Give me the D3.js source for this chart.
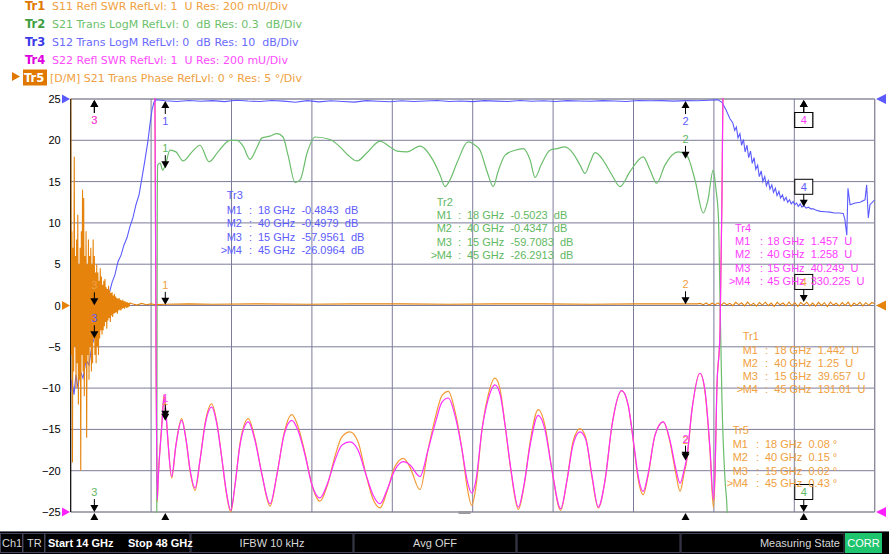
<!DOCTYPE html>
<html><head><meta charset="utf-8">
<script src="https://cdn.jsdelivr.net/npm/d3@7"></script>
<style>
body{margin:0;background:#fff;}
svg{display:block;font-family:"Liberation Sans",Arial,sans-serif;}
.pre{white-space:pre;}
</style>
</head><body>
<svg id="c" width="889" height="554"></svg>
<script>
// ---------------- DATA ----------------
const freqStart = 14, freqStop = 48;            // GHz
const yTicks = [25,20,15,10,5,0,-5,-10,-15,-20,-25];
const xDivisions = 10;

const headerIds   = ["Tr1","Tr2","Tr3","Tr4","Tr5"];
const headerDescs = ["S11 Refl SWR RefLvl: 1  U Res: 200 mU/Div",
                     "S21 Trans LogM RefLvl: 0  dB Res: 0.3  dB/Div",
                     "S12 Trans LogM RefLvl: 0  dB Res: 10  dB/Div",
                     "S22 Refl SWR RefLvl: 1  U Res: 200 mU/Div",
                     "[D/M] S21 Trans Phase RefLvl: 0 \u00b0 Res: 5 \u00b0/Div"];

const markerNames = ["M1","M2","M3","M4"];
const markerFreqs = [18, 40, 15, 45];
const tr1Readout = [1.442, 1.25, 39.657, 131.01];
const tr2Readout = [-0.5023, -0.4347, -59.7083, -26.2913];
const tr3Readout = [-0.4843, -0.4979, -57.9561, -26.0964];
const tr4Readout = [1.457, 1.258, 40.249, 330.225];
const tr5Readout = [0.08, 0.15, 0.02, 0.43];

// traces in screen-grid units ([GHz, value])
const tr2Points = [[17.55,-30],[17.64,-25],[17.66,12.8],[17.68,17.0],[17.78,17.25],[17.89,16.4],[17.99,16.9],[18.20,18.8],[18.45,18.6],[18.75,17.5],[19.13,18.6],[19.47,19.4],[19.85,17.4],[20.23,18.6],[20.74,20.0],[21.03,20.0],[21.29,19.3],[21.58,17.7],[21.87,19.1],[22.09,20.3],[22.43,20.5],[22.72,20.8],[22.98,20.4],[23.19,18.2],[23.49,14.9],[23.70,15.2],[24.00,18.5],[24.33,20.4],[24.97,20.1],[25.39,19.2],[25.73,18.2],[26.11,17.5],[26.53,18.5],[27.08,19.9],[27.50,19.2],[27.80,18.7],[28.22,18.6],[28.77,19.3],[29.32,17.6],[29.62,15.8],[29.83,14.4],[30.04,15.2],[30.34,17.3],[30.80,19.8],[31.10,19.4],[31.31,18.8],[31.61,16.2],[31.87,14.4],[32.07,16.2],[32.37,18.2],[32.79,18.8],[33.14,19.0],[33.43,17.6],[33.64,15.5],[33.89,17.0],[34.27,18.8],[34.57,19.0],[34.90,19.2],[35.25,18.4],[35.54,17.0],[35.75,16.0],[35.96,17.3],[36.17,18.5],[36.38,18.1],[36.60,17.2],[36.89,15.8],[37.23,14.4],[37.65,16.2],[38.21,18.0],[38.50,16.4],[38.78,14.8],[39.13,17.0],[39.69,18.6],[40.05,18.2],[40.40,15.2],[40.75,11.2],[40.95,12.8],[41.17,16.4],[41.29,14.0],[41.39,10.8],[41.46,0.7],[41.54,-11.4],[41.67,-21.1],[41.76,-25],[41.80,-30],[48,-30]];

const tr3Rise = [[14.00,-10.5],[14.05,-9.0],[14.14,-10.8],[14.22,-8.4],[14.31,-10.0],[14.39,-7.8],[14.52,-8.8],[14.65,-6.6],[14.77,-7.2],[14.90,-4.8],[15.00,-3.9],[15.11,-3.0],[15.24,-1.8],[15.37,-0.8],[15.49,0.7],[15.62,1.4],[15.75,2.8],[15.87,3.7],[16.00,5.3],[16.13,6.1],[16.25,7.3],[16.38,8.2],[16.51,9.6],[16.63,10.6],[16.76,12.2],[16.89,13.4],[17.01,15.4],[17.14,17.6],[17.27,20.0],[17.35,21.9],[17.44,23.7],[17.52,24.6],[17.61,24.9]];
const tr3TopStart = 18.0, tr3TopStep = 0.5;
const tr3Top = [24.78,24.7,24.82,24.72,24.8,24.68,24.85,24.75,24.7,24.82,24.74,24.6,24.8,24.65,24.78,24.7,24.62,24.8,24.72,24.66,24.78,24.7,24.75,24.82,24.7,24.76,24.68,24.8,24.74,24.7,24.82,24.72,24.78,24.7,24.8,24.75,24.72,24.8,24.76,24.7,24.82,24.78,24.8,24.74,24.8,24.78,24.85];
const tr3Fall = [[41.37,24.9],[41.54,24.6],[41.71,23.7],[41.88,22.6],[42.00,22.1],[42.08,21.2],[42.15,21.6],[42.22,20.3],[42.30,20.8],[42.37,19.4],[42.45,20.1],[42.52,18.6],[42.60,19.4],[42.67,17.9],[42.75,18.7],[42.82,17.2],[42.90,17.9],[42.97,16.5],[43.05,17.0],[43.12,15.6],[43.20,16.3],[43.27,15.0],[43.35,15.6],[43.42,14.5],[43.50,15.1],[43.57,14.1],[43.65,14.6],[43.72,13.7],[43.80,14.2],[43.87,13.3],[43.95,13.8],[44.02,13.0],[44.10,13.4],[44.17,12.7],[44.25,13.1],[44.32,12.5],[44.40,12.8],[44.47,12.3],[44.55,12.6],[44.62,12.2],[44.70,12.4],[44.77,12.0],[44.85,12.3],[44.92,11.9],[45.00,12.1],[45.1,11.8],[45.2,11.9],[45.3,11.7],[45.4,11.7],[45.5,11.55],[45.7,11.4],[45.9,11.35],[46.1,11.3],[46.3,11.2],[46.5,11.2],[46.67,11.15],[46.74,10.4],[46.82,8.5],[46.87,14.2],[46.96,12.2],[47.17,12.4],[47.38,12.5],[47.59,12.8],[47.66,14.6],[47.73,10.6],[47.80,12.2],[48.0,12.8]];

const tr4Points = [[14,30],[17.50,30],[17.56,26],[17.61,-6.6],[17.66,-23.5],[17.70,-21],[17.85,-14.7],[17.95,-11.0],[18.03,-13.0],[18.11,-16.3],[18.27,-20.7],[18.45,-16.9],[18.69,-13.9],[18.88,-16.3],[19.05,-19.9],[19.26,-22.1],[19.47,-18.7],[19.68,-14.5],[19.96,-12.3],[20.19,-14.5],[20.40,-18.7],[20.57,-22.3],[20.77,-24.8],[20.95,-21.7],[21.16,-16.9],[21.51,-14.1],[21.79,-16.3],[22.09,-20.5],[22.43,-24.0],[22.72,-20.5],[23.02,-15.7],[23.35,-13.9],[23.61,-15.1],[23.91,-18.1],[24.20,-21.7],[24.54,-23.3],[24.84,-21.7],[25.18,-18.7],[25.47,-16.9],[25.81,-16.5],[26.15,-17.5],[26.49,-20.5],[26.78,-22.9],[27.08,-24.0],[27.38,-22.3],[27.71,-19.9],[28.07,-18.9],[28.35,-19.3],[28.77,-20.7],[29.11,-17.5],[29.45,-13.9],[29.70,-11.7],[29.97,-11.2],[30.25,-13.3],[30.55,-17.5],[30.76,-21.1],[30.96,-22.7],[31.14,-21.1],[31.39,-15.1],[31.65,-11.4],[31.94,-9.6],[32.16,-10.8],[32.37,-14.5],[32.62,-19.9],[32.93,-24.4],[33.17,-21.7],[33.43,-16.9],[33.77,-13.3],[34.06,-15.1],[34.35,-19.9],[34.72,-24.6],[34.99,-21.1],[35.24,-16.9],[35.54,-15.3],[35.79,-16.3],[36.04,-20.5],[36.31,-24.4],[36.60,-21.1],[36.89,-14.5],[37.30,-10.3],[37.57,-12.0],[37.82,-16.9],[37.99,-20.5],[38.21,-22.5],[38.41,-20.5],[38.71,-15.7],[39.06,-14.1],[39.34,-16.3],[39.60,-19.9],[39.77,-21.5],[39.94,-19.9],[40.05,-18.5],[40.27,-12.7],[40.61,-8.2],[40.82,-10.2],[41.04,-17.5],[41.18,-23.5],[41.25,-19.9],[41.32,-10.6],[41.46,-3.0],[41.54,12.8],[41.58,25],[41.63,30],[48,30]];

const tr1Points = [[14,30],[17.50,30],[17.56,26],[17.61,-6.6],[17.66,-23.8],[17.70,-21],[17.85,-14.5],[17.95,-10.8],[18.03,-13.2],[18.11,-16.3],[18.27,-20.9],[18.45,-16.9],[18.69,-13.7],[18.88,-16.3],[19.05,-20.1],[19.26,-22.4],[19.47,-18.7],[19.68,-14.3],[19.96,-11.9],[20.19,-14.3],[20.40,-18.7],[20.57,-22.5],[20.77,-25.0],[20.95,-21.7],[21.16,-16.7],[21.51,-13.7],[21.79,-16.1],[22.09,-20.5],[22.43,-24.3],[22.72,-20.5],[23.02,-15.5],[23.35,-13.2],[23.61,-14.6],[23.91,-17.9],[24.20,-21.7],[24.54,-23.7],[24.84,-21.9],[25.18,-18.2],[25.47,-15.9],[25.81,-15.3],[26.15,-16.5],[26.49,-20.5],[26.78,-23.4],[27.08,-24.5],[27.38,-22.5],[27.71,-19.5],[28.07,-18.5],[28.35,-19.6],[28.77,-22.3],[29.11,-17.5],[29.45,-13.2],[29.70,-10.9],[29.97,-10.4],[30.25,-12.8],[30.55,-17.5],[30.76,-21.9],[30.96,-24.2],[31.14,-21.9],[31.39,-15.1],[31.65,-10.9],[31.94,-8.8],[32.16,-10.2],[32.37,-14.5],[32.62,-20.1],[32.93,-24.7],[33.17,-21.9],[33.43,-16.5],[33.77,-12.6],[34.06,-14.6],[34.35,-19.9],[34.72,-24.8],[34.99,-21.1],[35.24,-16.5],[35.54,-14.9],[35.79,-16.1],[36.04,-20.7],[36.31,-24.5],[36.60,-21.1],[36.89,-14.5],[37.30,-10.3],[37.57,-12.0],[37.82,-17.1],[37.99,-20.9],[38.21,-22.9],[38.41,-20.7],[38.71,-15.7],[39.06,-14.1],[39.34,-16.5],[39.60,-20.5],[39.77,-22.5],[39.94,-20.3],[40.05,-18.8],[40.27,-12.7],[40.61,-8.2],[40.82,-10.4],[41.04,-17.9],[41.18,-24.5],[41.25,-20.3],[41.32,-10.6],[41.46,-3.0],[41.54,12.8],[41.58,25],[41.63,30],[48,30]];

const tr5LeftStart = 14.0, tr5LeftStep = 0.025;
const tr5Left = [28,-6,9,-19,7,-8,18,-5,6,-10,8,-7,11,-12,5,-9,7,-20,9,-6,14,-8,13,-11,6,-7,9,-16,5,-6,8,-9,6,-5,7,-8,5,-7,8,-4,6,-6,4,-7,5,-5,4,-6,3,-4,4.5,-3,3.5,-3.5,2.5,-3,3,-2.5,3.2,-2,2.2,-2.8,2,-1.8,2.4,-1.5,1.8,-2,1.5,-1.2,1.6,-1.4,1.2,-1,1.4,-0.9,1.1,-0.8,0.9,-1,0.8,-0.6,0.9,-0.5,0.7,-0.6,0.6,-0.4,0.7,-0.3,0.5,-0.4,0.5,-0.2,0.4,-0.3,0.4,-0.2,0.3,-0.1,0.3];
const tr5Mid = [[16.6,0.2],[16.8,0.05],[17.0,0.25],[17.2,0.1],[17.4,0.2],[17.6,0.1],[18,0.15],[19,0.2],[20,0.15],[22,0.2],[24,0.15],[26,0.2],[28,0.2],[30,0.15],[32,0.2],[34,0.2],[36,0.15],[38,0.2],[40,0.2],[40.5,0.2]];
const tr5RightStart = 40.625, tr5RightStep = 0.125;
const tr5Right = [0.25,0.1,0.3,0.05,0.28,0.1,0.32,0.0,0.35,0.08,0.26,-0.02,0.38,0.1,0.3,-0.05,0.4,0.02,0.28,-0.08,0.36,0.05,0.4,-0.02,0.3,-0.1,0.38,0.08,0.3,-0.06,0.42,0.0,0.34,-0.1,0.36,0.05,0.4,-0.05,0.3,-0.08,0.38,0.0,0.34,-0.12,0.4,0.05,0.28,-0.06,0.36,0.0,0.4,-0.1,0.3,0.05,0.38,-0.04,0.34,0.02,0.36,0.2];

const statusCells = ["Ch1","TR","Start 14 GHz","Stop 48 GHz","IFBW 10 kHz","Avg OFF","","Measuring State","CORR"];

// ---------------- DRAW ----------------
const svg = d3.select("#c");
const L = 70.7, R = 874.7, T = 99, B = 512;
const x = d3.scaleLinear().domain([freqStart, freqStop]).range([L, R]);
const y = d3.scaleLinear().domain([-25, 25]).range([B, T]);

const col = {
  tr1:"#f39a34", tr2:"#6cbd6c", tr3:"#5a5aff", tr4:"#ff2cff", tr5:"#e5830c",
  t1:"#f0a040", t2:"#62b862", t3:"#5c5cff", t4:"#ff3cff", t5:"#f0a040"
};

// header
const hdrBold = ["#e07800","#3e9e3e","#3a3ae8","#e000e0"];
const hdrText = [col.t1, "#6cbf6c", "#6a6aff", "#ff4cff", col.t5];
const hdr = svg.append("g").attr("font-size", 11).attr("font-family", "DejaVu Sans, sans-serif");
headerIds.forEach((id, i) => {
  const cy = 10 + i * 18;
  if (i < 4) {
    hdr.append("text").attr("x", 25).attr("y", cy).attr("font-weight", "bold").attr("font-size", 11.5).attr("fill", hdrBold[i]).text(id);
  } else {
    hdr.append("path").attr("d", `M12,${cy-10}L20,${cy-5.5}L12,${cy-1}Z`).attr("fill", "#e07800");
    hdr.append("rect").attr("x", 23).attr("y", cy - 12.5).attr("width", 24).attr("height", 16).attr("fill", "#e07800");
    hdr.append("text").attr("x", 24).attr("y", cy).attr("font-weight", "bold").attr("font-size", 11.5).attr("fill", "#fff").text(id);
  }
  hdr.append("text").attr("class", "pre").attr("x", i < 4 ? 52 : 50).attr("y", cy).attr("fill", hdrText[i]).text(headerDescs[i]);
});

// grid
const grid = svg.append("g");
yTicks.forEach(v => {
  grid.append("line").attr("x1", L).attr("x2", R).attr("y1", y(v)).attr("y2", y(v))
    .attr("stroke", (v === 25 || v === -25) ? "#8c8c9c" : "#7c7c9a").attr("stroke-width", (v === 25 || v === -25) ? 1.6 : 1);
});
d3.range(1, xDivisions).forEach(i => {
  const f = freqStart + i * (freqStop - freqStart) / xDivisions;
  grid.append("line").attr("x1", x(f)).attr("x2", x(f)).attr("y1", T).attr("y2", B)
    .attr("stroke", "#7c7c9a").attr("stroke-width", 1);
});
grid.append("line").attr("x1", R).attr("x2", R).attr("y1", T).attr("y2", B).attr("stroke", "#8c8c9c").attr("stroke-width", 1.4);
grid.append("line").attr("x1", L).attr("x2", L).attr("y1", T).attr("y2", B).attr("stroke", "#000").attr("stroke-width", 1.2);

// y axis labels
const yAxis = d3.axisLeft(y).tickValues(yTicks).tickSize(0).tickPadding(10).tickFormat(d3.format("d"));
const ya = svg.append("g").attr("transform", `translate(${L},0)`).call(yAxis);
ya.select(".domain").remove();
ya.selectAll("text").attr("font-size", 11).attr("fill", "#000").attr("font-family", "Liberation Sans, Arial, sans-serif");

// reference triangles
[[25, col.tr3], [0, col.tr5], [-25, "#ff22ff"]].forEach(([v, c]) => {
  const yy = y(v);
  svg.append("path").attr("d", `M62,${yy-4.5}L70,${yy}L62,${yy+4.5}Z`).attr("fill", c);
  svg.append("path").attr("d", `M886,${yy-5}L876,${yy}L886,${yy+5}Z`).attr("fill", c);
});

// traces
svg.append("clipPath").attr("id", "plot").append("rect").attr("x", L).attr("y", T - 1).attr("width", R - L).attr("height", B - T + 2);
const traces = svg.append("g").attr("clip-path", "url(#plot)");
const lineLin = d3.line().x(d => x(d[0])).y(d => y(d[1]));
const lineSmooth = d3.line().x(d => x(d[0])).y(d => y(d[1])).curve(d3.curveMonotoneX);

const tr3Points = tr3Rise.concat(tr3Top.map((v, i) => [tr3TopStart + i * tr3TopStep, v])).concat(tr3Fall);
const tr5Points = tr5Left.map((v, i) => [tr5LeftStart + i * tr5LeftStep, v])
  .concat(tr5Mid).concat(tr5Right.map((v, i) => [tr5RightStart + i * tr5RightStep, v]));

traces.append("path").datum(tr1Points).attr("d", lineSmooth).attr("fill", "none").attr("stroke", col.tr1).attr("stroke-width", 1.2);
traces.append("path").datum(tr2Points).attr("d", lineSmooth).attr("fill", "none").attr("stroke", col.tr2).attr("stroke-width", 1.2);
traces.append("path").datum(tr3Points).attr("d", lineLin).attr("fill", "none").attr("stroke", col.tr3).attr("stroke-width", 1.1);
traces.append("path").datum(tr5Points).attr("d", lineLin).attr("fill", "none").attr("stroke", col.tr5).attr("stroke-width", 1.1);
traces.append("path").datum(tr4Points).attr("d", lineSmooth).attr("fill", "none").attr("stroke", col.tr4).attr("stroke-width", 1.2);

// small grey bar at bottom
svg.append("rect").attr("x", x(30.4)).attr("y", B - 1).attr("width", 12).attr("height", 3).attr("fill", "#9a9aa0");

// markers
const toDisp = {
  tr1: d3.scaleLinear().domain([1, 3]).range([-25, 25]),
  tr2: d3.scaleLinear().domain([-3, 0]).range([-25, 25]),
  tr3: d3.scaleLinear().domain([-100, 0]).range([-25, 25]),
  tr4: d3.scaleLinear().domain([1, 3]).range([-25, 25]),
  tr5: d3.scaleLinear().domain([-25, 25]).range([-25, 25])
};
const mk = svg.append("g").attr("font-size", 11).attr("text-anchor", "middle");
function drawMarker(f, disp, color, label, boxed) {
  const px = x(f);
  let tip, up;
  if (disp > 25) { tip = T + 1; up = true; }
  else if (disp < -25) { tip = B; up = false; }
  else { tip = y(disp); up = disp > 20; }
  const s = up ? 1 : -1;
  mk.append("path").attr("d", `M${px-4},${tip+7*s}L${px+4},${tip+7*s}L${px},${tip}Z`).attr("fill", "#000");
  mk.append("line").attr("x1", px).attr("x2", px).attr("y1", tip + 6 * s).attr("y2", tip + 13 * s).attr("stroke", "#000");
  const cy = tip + 20 * s;
  if (boxed) mk.append("rect").attr("x", px - 9).attr("y", cy - 7.5).attr("width", 18).attr("height", 15).attr("fill", "#fff").attr("stroke", "#000");
  mk.append("text").attr("x", px).attr("y", cy + 4).attr("fill", color).text(label);
}
const markerSets = [["tr1", tr1Readout, col.t1], ["tr2", tr2Readout, col.t2], ["tr3", tr3Readout, col.t3], ["tr5", tr5Readout, col.t5], ["tr4", tr4Readout, col.t4]];
markerSets.forEach(([k, vals, c]) => {
  vals.forEach((v, i) => drawMarker(markerFreqs[i], toDisp[k](v), c, String(i + 1), i === 3));
});
// stimulus triangles under the axis
markerFreqs.forEach(f => {
  const px = x(f);
  svg.append("path").attr("d", `M${px-4},${B+8}L${px+4},${B+8}L${px},${B+1}Z`).attr("fill", "#000");
});

// marker tables
const tables = [
  {name:"Tr3", vals:tr3Readout, unit:"dB", color:col.t3, c0:226.7, c1:249, c2:258, y0:195, dy:[15,28.3,41.7,55]},
  {name:"Tr2", vals:tr2Readout, unit:"dB", color:col.t2, c0:436.7, c1:458, c2:467, y0:201.7, dy:[13.3,26.6,40,53.3]},
  {name:"Tr4", vals:tr4Readout, unit:"U", color:col.t4, c0:735, c1:760, c2:767.3, y0:228.3, dy:[12.7,26,39.4,52.7]},
  {name:"Tr1", vals:tr1Readout, unit:"U", color:col.t1, c0:742.7, c1:765, c2:774.3, y0:336, dy:[14,26.7,40,53.3]},
  {name:"Tr5", vals:tr5Readout, unit:"\u00b0", color:col.t5, c0:732.7, c1:756, c2:765, y0:430, dy:[14,27.3,40.7,53.3]}
];
const tb = svg.append("g").attr("font-size", 11);
tables.forEach(t => {
  tb.append("text").attr("x", t.c0).attr("y", t.y0 + 4).attr("fill", t.color).text(t.name);
  t.vals.forEach((v, i) => {
    const yy = t.y0 + t.dy[i] + 4;
    if (i === 3) tb.append("text").attr("x", t.c0 - 6).attr("y", yy).attr("fill", t.color).text(">");
    tb.append("text").attr("x", t.c0).attr("y", yy).attr("fill", t.color).text(markerNames[i]);
    tb.append("text").attr("x", t.c1).attr("y", yy).attr("fill", t.color).text(":");
    const sep = t.unit === "\u00b0" ? " " : "  ";
    tb.append("text").attr("class", "pre").attr("x", t.c2).attr("y", yy).attr("fill", t.color)
      .text(`${markerFreqs[i]} GHz  ${String(v)}${sep}${t.unit}`);
  });
});

// status bar
const sb = svg.append("g").attr("font-size", 11);
sb.append("rect").attr("x", 0).attr("y", 531).attr("width", 889).attr("height", 23).attr("fill", "#000");
sb.append("line").attr("x1", 0).attr("x2", 889).attr("y1", 531.5).attr("y2", 531.5).attr("stroke", "#6a6a78");
const cells = [[0.5,22],[23,21.5],[45,145],[191,162],[354,162],[517,163],[681,163]];
cells.forEach(([cx, w]) => sb.append("rect").attr("x", cx).attr("y", 533.5).attr("width", w).attr("height", 19).attr("fill", "#000").attr("stroke", "#44445a"));
sb.append("rect").attr("x", 845).attr("y", 533).attr("width", 37).attr("height", 20).attr("fill", "#1fc46e");
sb.append("text").attr("x", 2).attr("y", 547).attr("fill", "#d8d8d8").text(statusCells[0]);
sb.append("text").attr("x", 27).attr("y", 547).attr("fill", "#d8d8d8").text(statusCells[1]);
sb.append("text").attr("x", 48).attr("y", 547).attr("fill", "#fff").attr("font-weight", "bold").text(statusCells[2]);
sb.append("text").attr("x", 128).attr("y", 547).attr("fill", "#fff").attr("font-weight", "bold").text(statusCells[3]);
sb.append("text").attr("x", 272).attr("y", 547).attr("fill", "#d8d8d8").attr("text-anchor", "middle").text(statusCells[4]);
sb.append("text").attr("x", 435).attr("y", 547).attr("fill", "#d8d8d8").attr("text-anchor", "middle").text(statusCells[5]);
sb.append("text").attr("x", 840).attr("y", 547).attr("fill", "#d8d8d8").attr("text-anchor", "end").text(statusCells[7]);
sb.append("text").attr("x", 863.5).attr("y", 547).attr("fill", "#fff").attr("text-anchor", "middle").text(statusCells[8]);
</script>
</body></html>
